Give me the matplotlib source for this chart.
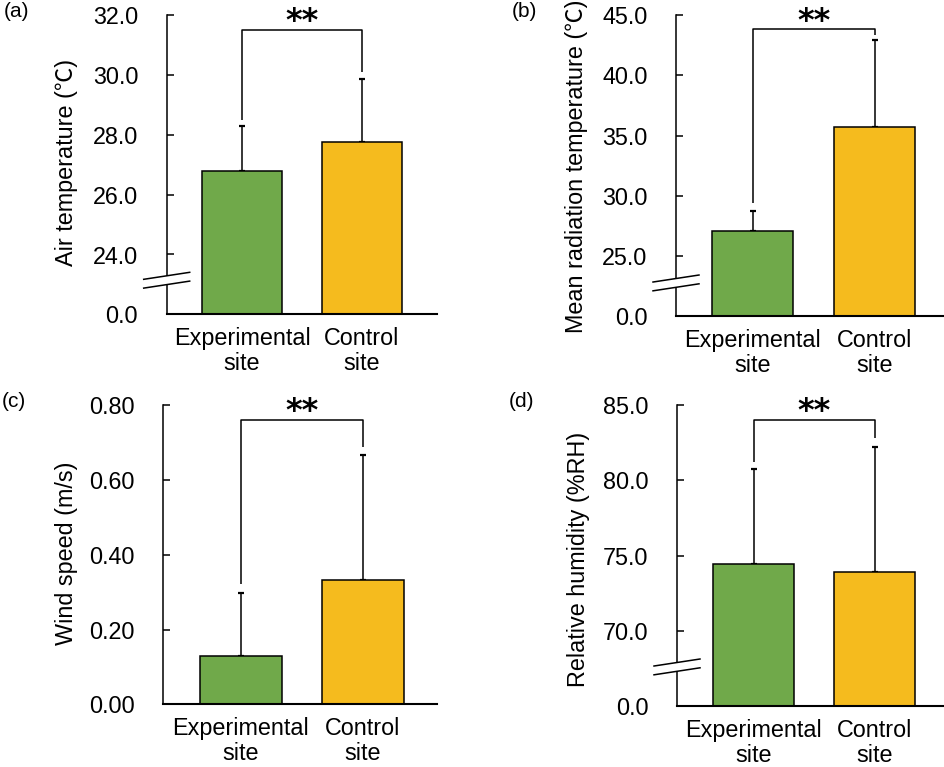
import numpy as np
import matplotlib
matplotlib.use('Agg')
import matplotlib.pyplot as plt
from matplotlib.patches import Polygon

plt.rcParams['font.family'] = ['Liberation Sans', 'Noto Sans CJK JP']

# ---------------- data ----------------
categories = ['Experimental\nsite', 'Control\nsite']
bar_colors = ['#70A94A', '#F5BB1E']

# (a) air temperature
air_mean = [26.8, 27.75]
air_sd = [1.5, 2.12]
air_ticks = [0.0, 24.0, 26.0, 28.0, 30.0, 32.0]
air_bracket = [28.5, 31.5, 30.1]   # left leg bottom, top, right leg bottom

# (b) mean radiation temperature
mrt_mean = [27.1, 35.7]
mrt_sd = [1.65, 7.27]
mrt_ticks = [0.0, 25.0, 30.0, 35.0, 40.0, 45.0]
mrt_bracket = [29.4, 43.9, 43.4]

# (c) wind speed
wind_mean = [0.129, 0.333]
wind_sd = [0.168, 0.334]
wind_ticks = [0.00, 0.20, 0.40, 0.60, 0.80]
wind_bracket = [0.322, 0.761, 0.688]

# (d) relative humidity
rh_mean = [74.45, 73.93]
rh_sd = [6.34, 8.31]
rh_ticks = [0.0, 70.0, 75.0, 80.0, 85.0]
rh_bracket = [81.25, 84.0, 82.84]

sig_label = '**'

# ---------------- layout ----------------
W, H = 945, 767
fig = plt.figure(figsize=(W / 100, H / 100), dpi=100)

panels = [
    dict(letter='(a)', ylabel='Air temperature (℃)', mean=air_mean, sd=air_sd,
         ticks=air_ticks, bracket=air_bracket, fmt='%.1f', brk=True,
         rect=(166.7, 437.3, 15.3, 314.3), centers=(242.0, 361.5), bw=80,
         label_xy=(66, 162.5), letter_xy=(4, 2), brk_slot=0.57),
    dict(letter='(b)', ylabel='Mean radiation temperature (℃)', mean=mrt_mean, sd=mrt_sd,
         ticks=mrt_ticks, bracket=mrt_bracket, fmt='%.1f', brk=True,
         rect=(676.0, 942.7, 15.3, 316.0), centers=(752.8, 874.5), bw=81,
         label_xy=(576.5, 166.7), letter_xy=(512, 2), brk_slot=0.55),
    dict(letter='(c)', ylabel='Wind speed (m/s)', mean=wind_mean, sd=wind_sd,
         ticks=wind_ticks, bracket=wind_bracket, fmt='%.2f', brk=False,
         rect=(163.3, 437.0, 405.3, 704.3), centers=(240.7, 362.7), bw=82,
         label_xy=(66, 553), letter_xy=(2, 392), brk_slot=None),
    dict(letter='(d)', ylabel='Relative humidity (%RH)', mean=rh_mean, sd=rh_sd,
         ticks=rh_ticks, bracket=rh_bracket, fmt='%.1f', brk=True,
         rect=(677.0, 943.0, 405.3, 706.0), centers=(753.7, 874.7), bw=81,
         label_xy=(579, 559), letter_xy=(509, 392), brk_slot=0.52),
]

FS = 16.8
LW = 1.1


def make_scale(ticks):
    low = ticks[1]
    step = ticks[2] - ticks[1]

    def fwd(v):
        v = np.asarray(v, dtype=float)
        return np.where(v < low, v / low, 1.0 + (v - low) / step)

    def inv(s):
        s = np.asarray(s, dtype=float)
        return np.where(s < 1.0, s * low, low + (s - 1.0) * step)

    return fwd, inv


for p in panels:
    l, r, t, b = p['rect']
    ax = fig.add_axes([l / W, 1 - b / H, (r - l) / W, (b - t) / H])
    c0, c1 = p['centers']
    sp = c1 - c0
    x = np.arange(len(categories))
    ax.set_xlim((l - c0) / sp, (r - c0) / sp)
    ticks = p['ticks']
    if p['brk']:
        fwd, inv = make_scale(ticks)
        ax.set_yscale('function', functions=(fwd, inv))
    ax.set_ylim(ticks[0], ticks[-1])

    ax.bar(x, p['mean'], width=p['bw'] / sp, color=bar_colors,
           edgecolor='black', linewidth=LW, zorder=2)
    ax.errorbar(x, p['mean'], yerr=[np.zeros(len(x)), p['sd']], fmt='none',
                ecolor='black', elinewidth=LW, capsize=2, capthick=1.6, zorder=1)

    bl, btop, br = p['bracket']
    ax.plot([0, 0, 1, 1], [bl, btop, btop, br], color='black', lw=LW,
            solid_capstyle='butt', clip_on=False, zorder=3)
    ax.text(0.5, 0.978, sig_label, transform=ax.get_xaxis_transform(),
            ha='center', va='center', fontsize=23, fontweight='bold',
            family='DejaVu Sans')

    ax.set_yticks(ticks)
    ax.set_yticklabels([p['fmt'] % v for v in ticks])
    ax.yaxis.set_minor_locator(matplotlib.ticker.NullLocator())
    ax.set_xticks(x)
    ax.set_xticklabels(categories, linespacing=1.1)
    ax.tick_params(axis='y', direction='in', length=5, width=LW, pad=20.5,
                   labelsize=FS)
    ax.tick_params(axis='x', length=0, pad=9.5, labelsize=FS)
    for s in ['top', 'right']:
        ax.spines[s].set_visible(False)
    ax.spines['left'].set_linewidth(LW)
    ax.spines['bottom'].set_linewidth(1.5)
    ax.set_facecolor('none')

    # y label
    lx, ly = p['label_xy']
    fig.text(lx / W, 1 - ly / H, p['ylabel'], rotation=90, ha='center',
             va='center', fontsize=FS)
    # panel letter
    tx, ty = p['letter_xy']
    fig.text(tx / W, 1 - ty / H, p['letter'], ha='left', va='top', fontsize=15)

    # axis break marks
    if p['brk']:
        axw, axh = r - l, b - t
        cy = p['brk_slot'] / (len(ticks) - 1)
        hw = 23.0 / axw
        dy = 3.5 / axh
        sep = 4.4 / axh
        up = ([-hw, hw], [cy + sep - dy, cy + sep + dy])
        lo = ([-hw, hw], [cy - sep - dy, cy - sep + dy])
        poly = Polygon([[-hw, cy + sep - dy], [hw, cy + sep + dy],
                        [hw, cy - sep + dy], [-hw, cy - sep - dy]],
                       closed=True, transform=ax.transAxes, facecolor='white',
                       edgecolor='none', clip_on=False, zorder=4)
        ax.add_patch(poly)
        for xs, ys in (up, lo):
            ax.plot(xs, ys, transform=ax.transAxes, color='black', lw=LW,
                    clip_on=False, zorder=5)

fig.savefig('out.png', dpi=100)
